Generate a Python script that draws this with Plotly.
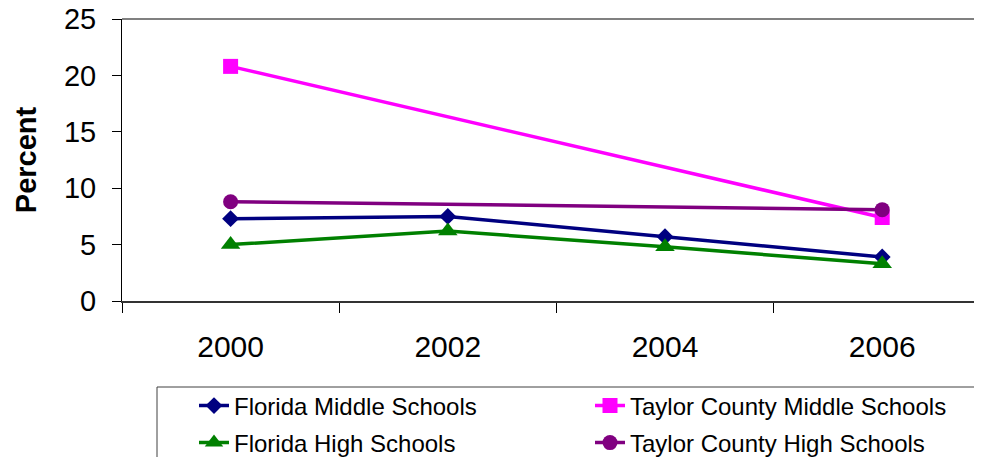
import plotly.graph_objects as go

years = ["2000", "2002", "2004", "2006"]
florida_middle = [7.3, 7.5, 5.7, 3.9]
taylor_middle = [20.8, None, None, 7.4]
florida_high = [5.0, 6.2, 4.8, 3.3]
taylor_high = [8.8, None, None, 8.1]

names = ["Florida Middle Schools", "Taylor County Middle Schools",
         "Florida High Schools", "Taylor County High Schools"]
series = [florida_middle, taylor_middle, florida_high, taylor_high]
colors = ["#000080", "#FF00FF", "#008000", "#800080"]
symbols = ["diamond", "square", "triangle-up", "circle"]
sizes = [13, 15, 17, 15]
legend_ids = ["legend", "legend2", "legend3", "legend4"]

FONT = "Liberation Sans, Arial, sans-serif"

# the page has an 8px body margin on every side; size the figure to fit inside it
OFF = 8
W, H = 982 - 2 * OFF, 465 - 2 * OFF
ml, mr, mt = 122 - OFF, 0, 19 - OFF
mb = H - (301 - OFF)
pw, ph = W - ml - mr, H - mt - mb
cat_px = 217.2  # pixel width of one category in the reference

def px_x(x):
    return (x - OFF - ml) / pw

def px_y(y):
    return (H - mb - (y - OFF)) / ph

fig = go.Figure()
for name, vals, c, s, sz, lg in zip(names, series, colors, symbols, sizes, legend_ids):
    fig.add_trace(go.Scatter(
        x=years, y=vals, name=name, mode="lines+markers", connectgaps=True,
        line=dict(color=c, width=3.5),
        marker=dict(color=c, symbol=s, size=sz, line=dict(width=0)),
        legend=lg,
    ))

leg_common = dict(font=dict(family=FONT, size=24, color="black"),
                  bgcolor="rgba(0,0,0,0)", borderwidth=0,
                  xanchor="left", yanchor="middle", itemsizing="trace")
legends = {
    "legend": dict(x=px_x(194), y=px_y(406), **leg_common),
    "legend2": dict(x=px_x(590), y=px_y(406), **leg_common),
    "legend3": dict(x=px_x(194), y=px_y(443), **leg_common),
    "legend4": dict(x=px_x(590), y=px_y(443), **leg_common),
}

fig.update_layout(
    width=W, height=H,
    margin=dict(l=ml, r=mr, t=mt, b=mb, autoexpand=False),
    paper_bgcolor="white", plot_bgcolor="white",
    font=dict(family=FONT, color="black"),
    showlegend=True,
    **legends,
    xaxis=dict(
        type="category", range=[-0.5, -0.5 + pw / cat_px], automargin=False,
        showgrid=False, zeroline=False,
        showline=True, linecolor="#333333", linewidth=1.5,
        ticks="outside", tickson="boundaries", ticklen=10, tickcolor="black", tickwidth=1,
        tickfont=dict(family=FONT, size=30, color="black"),
        ticklabelstandoff=18,
    ),
    yaxis=dict(
        range=[0, 25], dtick=5, tick0=0, automargin=False,
        showgrid=False, zeroline=False,
        showline=True, linecolor="black", linewidth=1,
        ticks="outside", ticklen=9, tickcolor="black", tickwidth=1,
        tickfont=dict(family=FONT, size=29, color="black"),
        ticklabelstandoff=10, ticklabeloverflow="allow",
        title=dict(text="<b>Percent</b>", font=dict(family=FONT, size=29, color="black"), standoff=18),
    ),
    shapes=[
        dict(type="line", xref="paper", yref="paper", x0=0, x1=1, y0=1, y1=1,
             line=dict(color="#808080", width=2), layer="below"),
        dict(type="rect", xref="paper", yref="paper",
             x0=px_x(157), x1=px_x(979), y0=px_y(387), y1=px_y(475),
             line=dict(color="#404040", width=1), fillcolor="rgba(0,0,0,0)"),
    ],
)

fig.write_html("out.html")
